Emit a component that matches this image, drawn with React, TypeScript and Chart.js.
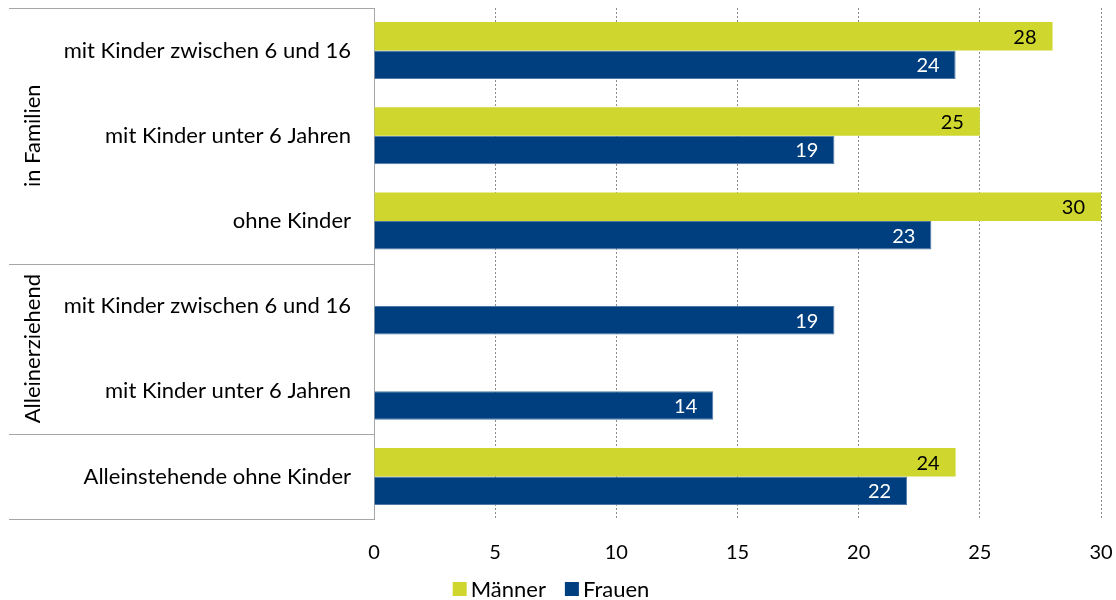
import React, { useEffect, useRef } from "react";
import { Chart, registerables } from "chart.js";

Chart.register(...registerables);

const categories = [
  "mit Kinder zwischen 6 und 16",
  "mit Kinder unter 6 Jahren",
  "ohne Kinder",
  "mit Kinder zwischen 6 und 16",
  "mit Kinder unter 6 Jahren",
  "Alleinstehende ohne Kinder",
];
const maenner: (number | null)[] = [28, 25, 30, null, null, 24];
const frauen: (number | null)[] = [24, 19, 23, 19, 14, 22];
const groups = [
  { label: "in Familien", from: 0, to: 2 },
  { label: "Alleinerziehend", from: 3, to: 4 },
  { label: "", from: 5, to: 5 },
];
const xTicks = [0, 5, 10, 15, 20, 25, 30];

const GREEN = "#CFD72E";
const BLUE = "#003F7F";
const FONT = "Lato, 'Open Sans', sans-serif";
const FS_LABEL = 22;
const FS_NUM = 20;

const decorPlugin = {
  id: "decor",
  afterDatasetsDraw(chart: any) {
    const ctx = chart.ctx;
    const area = chart.chartArea;
    ctx.save();
    // value labels
    ctx.font = `${FS_NUM}px ${FONT}`;
    ctx.textAlign = "right";
    ctx.textBaseline = "middle";
    chart.data.datasets.forEach((ds: any, di: number) => {
      const meta = chart.getDatasetMeta(di);
      meta.data.forEach((bar: any, i: number) => {
        const v = ds.data[i];
        if (v == null) return;
        ctx.fillStyle = di === 0 ? "#000" : "#fff";
        ctx.fillText(String(v), bar.x - 16, bar.y + 1);
      });
    });
    // table lines
    const left = 9;
    const step = (area.bottom - area.top) / categories.length;
    ctx.strokeStyle = "#a6a6a6";
    ctx.lineWidth = 1;
    const bounds = [area.top];
    groups.forEach((g) => bounds.push(area.top + (g.to + 1) * step));
    bounds.forEach((b) => {
      ctx.beginPath();
      ctx.moveTo(left, Math.round(b) + 0.5);
      ctx.lineTo(area.left, Math.round(b) + 0.5);
      ctx.stroke();
    });
    // group labels
    ctx.fillStyle = "#000";
    ctx.font = `${FS_LABEL}px ${FONT}`;
    ctx.textAlign = "center";
    ctx.textBaseline = "middle";
    groups.forEach((g) => {
      if (!g.label) return;
      const cy = (area.top + g.from * step + area.top + (g.to + 1) * step) / 2;
      ctx.save();
      ctx.translate(33, cy);
      ctx.rotate(-Math.PI / 2);
      ctx.fillText(g.label, 0, 0);
      ctx.restore();
    });
    // legend
    const items = [
      { label: "Männer", color: GREEN },
      { label: "Frauen", color: BLUE },
    ];
    ctx.font = `${FS_LABEL}px ${FONT}`;
    ctx.textAlign = "left";
    const box = 14;
    const gap = 4;
    const itemGap = 19;
    const widths = items.map((it) => box + gap + ctx.measureText(it.label).width);
    const total = widths.reduce((a, b) => a + b, 0) + itemGap;
    let x = 551 - total / 2;
    const ly = 589;
    items.forEach((it, k) => {
      ctx.fillStyle = it.color;
      ctx.fillRect(x, ly - box / 2, box, box);
      ctx.fillStyle = "#000";
      ctx.fillText(it.label, x + box + gap, ly + 1);
      x += widths[k] + itemGap;
    });
    ctx.restore();
  },
};

export default function App() {
  const ref = useRef<HTMLCanvasElement | null>(null);
  useEffect(() => {
    if (!ref.current) return;
    const chart = new Chart(ref.current, {
      type: "bar",
      data: {
        labels: categories,
        datasets: [
          {
            label: "Männer",
            data: maenner,
            backgroundColor: GREEN,
            borderWidth: 0,
            categoryPercentage: 0.67,
            barPercentage: 1.0,
          },
          {
            label: "Frauen",
            data: frauen,
            backgroundColor: BLUE,
            borderColor: "#4f7aa8",
            borderWidth: 1,
            borderSkipped: "start",
            categoryPercentage: 0.67,
            barPercentage: 1.0,
          },
        ],
      },
      options: {
        indexAxis: "y",
        animation: false,
        responsive: true,
        maintainAspectRatio: false,
        layout: { padding: { top: 8, right: 15, bottom: 0, left: 0 } },
        plugins: {
          legend: { display: false },
          tooltip: { enabled: false },
        },
        scales: {
          x: {
            min: 0,
            max: 30,
            afterBuildTicks: (scale: any) => {
              scale.ticks = xTicks.map((v) => ({ value: v }));
            },
            afterFit: (scale: any) => {
              scale.height = 81;
              scale.paddingLeft = 0;
              scale.paddingRight = 0;
              scale.paddingTop = 0;
              scale.paddingBottom = 0;
            },
            grid: {
              display: true,
              color: (c: any) => (c.tick && c.tick.value === 0 ? "rgba(0,0,0,0)" : "#8c8c8c"),
              lineWidth: 1,
              drawTicks: false,
            },
            border: { display: false, dash: [2, 2] },
            ticks: {
              color: "#000",
              font: { family: FONT, size: FS_NUM },
              padding: 22,
              maxRotation: 0,
            },
          },
          y: {
            afterFit: (scale: any) => {
              scale.width = 374;
              scale.paddingLeft = 0;
              scale.paddingRight = 0;
              scale.paddingTop = 0;
              scale.paddingBottom = 0;
            },
            grid: { display: false, drawTicks: false },
            border: { display: true, color: "#a6a6a6", width: 1 },
            ticks: {
              color: "#000",
              font: { family: FONT, size: FS_LABEL },
              padding: 23,
            },
          },
        },
      } as any,
      plugins: [decorPlugin],
    });
    return () => chart.destroy();
  }, []);
  return (
    <div style={{ position: "absolute", left: 0, top: 0, width: 1116, height: 600 }}>
      <canvas ref={ref} />
    </div>
  );
}
